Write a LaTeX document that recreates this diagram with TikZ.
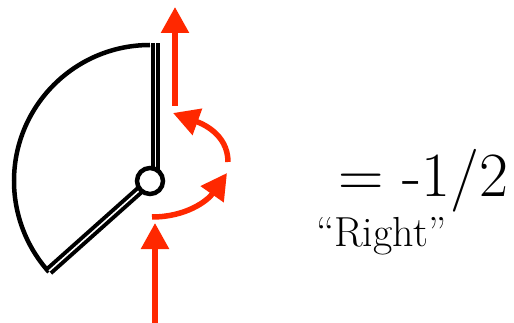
\documentclass[tikz,border=0pt]{standalone}
\usepackage{fontspec}
\usepackage{tikz}
\usetikzlibrary{arrows.meta,positioning}
\definecolor{flred}{RGB}{255,40,0}
\tikzset{
  sectorline/.style={line width=4.5pt, draw=black},
  hingeline/.style={double=white, double distance=1.6pt, line width=4pt, draw=black},
  pivot/.style={circle, draw=black, line width=4.5pt, fill=white, minimum size=26pt, inner sep=0pt},
  redarrow/.style={-{Triangle[length=26pt, width=27pt]}, line width=5.5pt, draw=flred},
  bigtext/.style={anchor=base west, inner sep=0pt, font=\fontsize{63}{68}\selectfont},
  labeltext/.style={anchor=base west, inner sep=0pt, font=\fontsize{42}{46}\selectfont}
}

\begin{document}
\begin{tikzpicture}[x=1pt,y=-1pt]
\useasboundingbox (0,0) rectangle (514,323);
% sector outline and hinge
\coordinate (hub) at (150,181);
\coordinate (topbase) at (155.5,181);
\coordinate (topend) at (155.5,43);
\coordinate (lowend) at (49,271);
\draw[sectorline] (hub) ++(0,-136) arc[start angle=-90, end angle=-222, radius=136];
\draw[hingeline] (topbase) -- (topend);
\draw[hingeline] (hub) -- (lowend);
\node[pivot] (hubnode) at (hub) {};
% red flow arrows
\coordinate (inbot) at (155,323);
\coordinate (intip) at (155,223);
\coordinate (c1a) at (152,217);
\coordinate (c1b) at (227,173);
\coordinate (c2a) at (228,162);
\coordinate (c2b) at (173,113);
\coordinate (outbot) at (175,106);
\coordinate (outtip) at (175,7);
\draw[redarrow] (inbot) -- (intip);
\draw[redarrow] (c1a) to[out=0, in=235] (c1b);
\draw[redarrow] (c2a) to[out=90, in=-20] (c2b);
\draw[redarrow] (outbot) -- (outtip);
% value and label
\node[bigtext] (value) at (338,197) {= -1/2};
\node[labeltext] (dirlabel) at (316,247) {``Right''};
\end{tikzpicture}
\end{document}
